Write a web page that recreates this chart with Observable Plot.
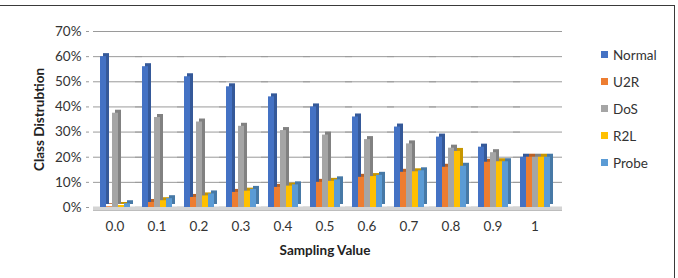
<!DOCTYPE html>
<html>
<head>
<meta charset="utf-8">
<script src="https://cdn.jsdelivr.net/npm/d3@7"></script>
<script src="https://cdn.jsdelivr.net/npm/@observablehq/plot@0.6"></script>
<style>
  html, body { margin: 0; padding: 0; background: #fff; }
  #chart { position: relative; width: 678px; height: 278px; overflow: hidden; font-family: Lato, "Open Sans", sans-serif; }
  #frame { position: absolute; left: -4px; top: 5px; width: 679px; height: 320px; border: 1.5px solid #3a3a3a; box-sizing: border-box; pointer-events: none; }
  #legend { position: absolute; left: 601px; top: 41px; font-size: 13.5px; color: #333; }
  #legend .item { height: 27px; display: flex; align-items: center; }
  #legend .swatch { width: 7px; height: 7px; margin-right: 5px; }
</style>
</head>
<body>
<div id="chart"><div id="legend"></div><div id="frame"></div></div>
<script>
// Class distribution (%) per sampling value
const categories = ["0.0", "0.1", "0.2", "0.3", "0.4", "0.5", "0.6", "0.7", "0.8", "0.9", "1"];
const series = ["Normal", "U2R", "DoS", "R2L", "Probe"];
const colors = ["#4472C4", "#ED7D31", "#A5A5A5", "#FFC000", "#5B9BD5"];

const normal = [60, 56, 52, 48, 44, 40, 36, 32, 28, 24, 20];
const u2r    = [0.3, 2, 4, 6, 8, 10, 12, 14, 16, 18, 20];
const dos    = [37.5, 35.8, 34, 32.3, 30.6, 28.8, 27, 25.3, 23.6, 21.8, 20];
const r2l    = [0.8, 2.7, 4.6, 6.5, 8.5, 10.4, 12.3, 14.2, 22.3, 18.2, 20];
const probe  = [1.5, 3.5, 5.4, 7.2, 9, 11, 12.8, 14.6, 16.4, 18.2, 20];

const yTicks = [0, 0.1, 0.2, 0.3, 0.4, 0.5, 0.6, 0.7];

const seriesValues = [normal, u2r, dos, r2l, probe];
const rows = series.flatMap((s, j) =>
  categories.map((c, i) => ({category: c, series: s, value: seriesValues[j][i] / 100}))
);

// Each bar: a darker offset block (side + top face) under the front face
const bars = series.flatMap((s, j) => {
  const data = rows.filter(d => d.series === s);
  const shade = d3.color(colors[j]).darker(0.7).formatHex();
  return [
    Plot.barY(data, {fx: "category", x: "series", y: "value", fill: shade, dx: 3, dy: -3}),
    Plot.barY(data, {fx: "category", x: "series", y: "value", fill: colors[j]})
  ];
});

// Rules repeat in every facet; negative insets close the gaps between groups
const span = {insetLeft: -6, insetRight: -12};

const chart = Plot.plot({
  width: 678,
  height: 278,
  marginLeft: 97,
  marginRight: 125,
  marginTop: 31,
  marginBottom: 71,
  fx: {domain: categories, padding: 0.26, label: null},
  x: {domain: series, padding: 0.04, axis: null},
  y: {domain: [0, 0.7]},
  style: {fontSize: "13.5px", fontFamily: "Lato, 'Open Sans', sans-serif", color: "#333", background: "transparent"},
  marks: [
    Plot.ruleY(yTicks, {stroke: "#9a9a9a", strokeWidth: 1, ...span}),
    Plot.ruleY([0], {stroke: "#d4d4d4", strokeWidth: 4, dy: 1, ...span}),
    Plot.ruleY([0], {stroke: "#bdbdbd", dy: 3, ...span}),
    ...bars,
    Plot.axisY(yTicks, {tickFormat: d3.format(".0%"), tickSize: 3, tickPadding: 5, dx: -10, stroke: "#9a9a9a", label: null}),
    Plot.axisFx({anchor: "bottom", tickSize: 0, tickPadding: 14, label: null}),
    Plot.text(["Sampling Value"], {frameAnchor: "bottom", dy: 47, fontWeight: "bold", fill: "#222", facet: "super"}),
    Plot.text(["Class Distrubtion"], {frameAnchor: "left", dx: -60, rotate: -90, textAnchor: "middle", fontWeight: "bold", fill: "#222", facet: "super"})
  ]
});

document.getElementById("chart").prepend(chart);

// Legend built from the series list and palette
const legend = document.getElementById("legend");
series.forEach((s, j) => {
  const item = document.createElement("div");
  item.className = "item";
  item.innerHTML = `<span class="swatch" style="background:${colors[j]}"></span><span>${s}</span>`;
  legend.appendChild(item);
});
</script>
</body>
</html>
